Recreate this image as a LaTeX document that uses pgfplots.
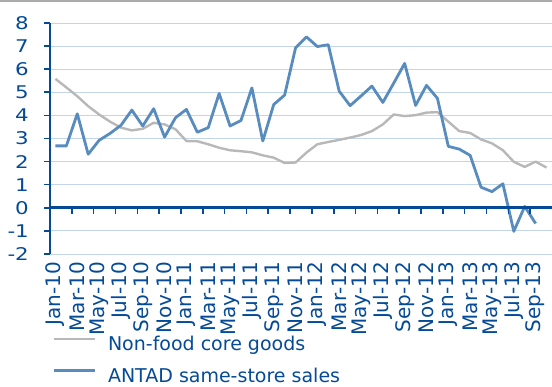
\documentclass[border=0pt]{standalone}
\usepackage{pgfplots}
\pgfplotsset{compat=1.18}
\usepackage{pgfplotstable}
\usepackage{fontspec}
\setmainfont{DejaVu Sans}
\newfontfamily\widedigits{DejaVu Sans}[FakeStretch=1.22]
\definecolor{axiscol}{RGB}{4,74,151}
\definecolor{blueline}{RGB}{88,140,190}
\definecolor{grayline}{RGB}{184,184,184}
\definecolor{gridcol}{RGB}{195,213,232}
\definecolor{topline}{RGB}{170,170,170}

\pgfplotstableread{
i val
0 5.58
1 5.21
2 4.83
3 4.40
4 4.04
5 3.73
6 3.47
7 3.35
8 3.42
9 3.68
10 3.61
11 3.40
12 2.89
13 2.88
14 2.75
15 2.60
16 2.49
17 2.45
18 2.40
19 2.27
20 2.17
21 1.94
22 1.96
23 2.39
24 2.75
25 2.85
26 2.94
27 3.04
28 3.15
29 3.32
30 3.61
31 4.04
32 3.97
33 4.01
34 4.12
35 4.14
36 3.73
37 3.32
38 3.24
39 2.96
40 2.79
41 2.49
42 1.99
43 1.77
44 2.00
45 1.74
}\nonfood

\pgfplotstableread{
i val
0 2.68
1 2.68
2 4.07
3 2.32
4 2.92
5 3.22
6 3.57
7 4.23
8 3.54
9 4.29
10 3.06
11 3.90
12 4.26
13 3.27
14 3.47
15 4.95
16 3.54
17 3.78
18 5.19
19 2.89
20 4.47
21 4.88
22 6.92
23 7.40
24 6.98
25 7.06
26 5.05
27 4.42
28 4.84
29 5.27
30 4.56
31 5.40
32 6.25
33 4.43
34 5.30
35 4.74
36 2.66
37 2.54
38 2.27
39 0.89
40 0.70
41 1.04
42 -1.02
43 0.06
44 -0.68
}\antad

\begin{document}
\begin{tikzpicture}
\fontsize{18}{21}\selectfont
\begin{axis}[
  at={(50pt,133pt)}, anchor=south west,
  scale only axis, width=502pt, height=231pt,
  xmin=-0.5, xmax=45.5, ymin=-2, ymax=8,
  axis x line=bottom, axis y line=left,
  x axis line style={draw=none},
  y axis line style={-, line width=2.6pt, color=axiscol},
  xtick={0,2,...,44},
  xticklabels={Jan-10,Mar-10,May-10,Jul-10,Sep-10,Nov-10,Jan-11,Mar-11,May-11,Jul-11,Sep-11,Nov-11,Jan-12,Mar-12,May-12,Jul-12,Sep-12,Nov-12,Jan-13,Mar-13,May-13,Jul-13,Sep-13},
  xtick style={draw=none},
  xticklabel style={rotate=90, anchor=east, font=\fontsize{20}{22}\selectfont, text=axiscol, inner sep=2pt},
  ytick={-2,-1,...,8},
  ytick style={line width=1.6pt, color=axiscol},
  tick align=outside,
  major tick length=6pt,
  yticklabel style={font=\widedigits\fontsize{17.5}{20}\selectfont, text=axiscol, xshift=-9pt},
  /pgf/number format/assume math mode=true,
  ymajorgrids, grid style={color=gridcol, line width=0.9pt},
  legend style={at={(axis description cs:0.004,-0.355)}, anchor=north west,
    draw=none, fill=none, font=\fontsize{19}{22}\selectfont, text=axiscol,
    inner sep=0pt, row sep=17pt, column sep=12pt,
    nodes={inner sep=0pt, text height=14pt, text depth=1pt}},
  legend cell align=left,
  legend image code/.code={\draw[#1] (0pt,5pt) -- (41pt,5pt);},
  clip=false,
]
\addplot[color=grayline, line width=2.4pt, line join=round] table[x=i, y=val] {\nonfood};
\addlegendentry{Non-food core goods}
\addplot[color=blueline, line width=2.8pt, line join=round] table[x=i, y=val] {\antad};
\addlegendentry{ANTAD same-store sales}
\draw[axiscol, line width=2.6pt] (axis cs:-0.5,0) -- (axis cs:45.5,0);
\pgfplotsinvokeforeach{1.5,3.5,...,43.5}{
  \draw[axiscol, line width=1.6pt] (axis cs:#1,0) -- ++(0pt,-6pt);
}
\end{axis}
\draw[topline, line width=2pt] (0pt,386pt) -- (552pt,386pt);
\pgfresetboundingbox
\path (0pt,0pt) rectangle (552pt,387pt);
\end{tikzpicture}
\end{document}
